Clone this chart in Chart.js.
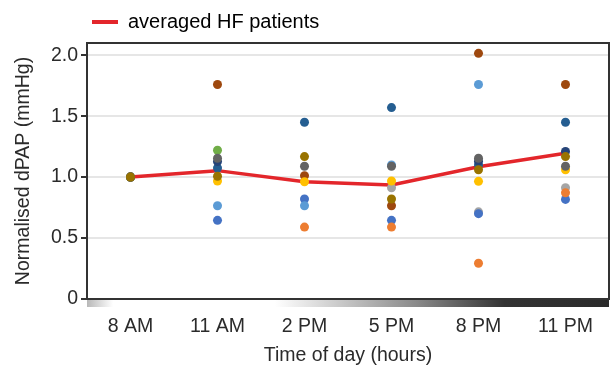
<!DOCTYPE html>
<html>
<head>
<meta charset="utf-8">
<script src="https://cdn.jsdelivr.net/npm/chart.js@4"></script>
<style>
  html, body { margin: 0; padding: 0; background: #fff; }
  #wrap { position: relative; width: 610px; height: 367px; }
</style>
</head>
<body>
<div id="wrap"><canvas id="chart"></canvas></div>
<script>
// time points on the x axis
const timeLabels = ['8 AM', '11 AM', '2 PM', '5 PM', '8 PM', '11 PM'];
const yTicks = [0, 0.5, 1, 1.5, 2];

// averaged curve
const averaged = [1.0, 1.053, 0.962, 0.935, 1.085, 1.196];

// individual patients (null = not visible at that time)
const grey      = [1.0, null,  null,  0.913, 0.715, 0.913];
const blue      = [1.0, 0.645, 0.82,  0.645, 0.70,  0.817];
const orange    = [1.0, null,  0.59,  0.59,  0.293, 0.872];
const brown     = [1.0, 1.76,  1.012, 0.765, 2.015, 1.76];
const lightBlue = [1.0, 0.765, 0.765, 1.10,  1.76,  null];
const green     = [1.0, 1.22,  null,  null,  null,  null];
const darkBlue  = [1.0, 1.075, 1.45,  1.57,  1.10,  1.45];
const yellow    = [1.0, 0.968, 0.962, 0.968, 0.965, 1.06];
const navy      = [1.0, 1.127, null,  null,  1.13,  1.21];
const darkGrey  = [1.0, 1.155, 1.089, 1.089, 1.155, 1.089];
const olive     = [1.0, 1.007, 1.168, 0.82,  1.06,  1.168];

// listed from bottom to top of the drawing stack
const patients = [
  [grey, '#A5A5A5'], [blue, '#4472C4'], [orange, '#ED7D31'], [brown, '#9E480E'],
  [lightBlue, '#5B9BD5'], [green, '#70AD47'], [darkBlue, '#255E91'], [yellow, '#FFC000'],
  [navy, '#264478'], [darkGrey, '#636363'], [olive, '#997300']
];

const FONT = { family: '"Liberation Sans", Arial, sans-serif', size: 19.5 };
const TEXT = '#2b2b2b';
const RED = '#E3262B';

// chart.js paints the first dataset of equal order last, so reverse
const datasets = patients.slice().reverse().map(([vals, color], i) => ({
  label: 'patient ' + (i + 1),
  data: vals,
  showLine: false,
  pointRadius: 4.5,
  pointBorderWidth: 0,
  pointBackgroundColor: color,
  order: 0
}));
datasets.unshift({
  label: 'averaged HF patients',
  data: averaged,
  borderColor: RED,
  backgroundColor: RED,
  borderWidth: 3.5,
  pointRadius: 0,
  tension: 0,
  order: 1
});

// box round the plot and the day/night band under the x axis
const framePlugin = {
  id: 'frame',
  beforeInit(chart) {
    const fit = chart.legend.fit;
    chart.legend.fit = function () {
      fit.bind(chart.legend)();
      this.height += 1;
    };
  },
  afterDraw(chart) {
    const { ctx, chartArea: a } = chart;
    ctx.save();
    const g = ctx.createLinearGradient(a.left, 0, a.right, 0);
    g.addColorStop(0, '#b8b8b8');
    g.addColorStop(0.05, '#ffffff');
    g.addColorStop(0.36, '#ffffff');
    g.addColorStop(0.63, '#8a8a8a');
    g.addColorStop(0.80, '#333333');
    g.addColorStop(1, '#2a2a2a');
    ctx.fillStyle = g;
    ctx.fillRect(a.left, a.bottom + 1, a.right - a.left, 7);
    ctx.strokeStyle = '#333';
    ctx.lineWidth = 2;
    ctx.strokeRect(a.left, a.top, a.right - a.left, a.bottom - a.top);
    ctx.restore();
  }
};

new Chart(document.getElementById('chart'), {
  type: 'line',
  data: { labels: timeLabels, datasets: datasets },
  options: {
    responsive: true,
    maintainAspectRatio: false,
    animation: false,
    layout: { autoPadding: false, padding: { top: 7, right: 1, left: 0, bottom: 0 } },
    plugins: {
      tooltip: { enabled: false },
      legend: {
        display: true,
        position: 'top',
        align: 'start',
        fullSize: false,
        labels: {
          boxWidth: 26,
          boxHeight: 4,
          padding: 5,
          color: TEXT,
          font: { family: FONT.family, size: 20 },
          generateLabels: () => [{
            text: 'averaged HF patients',
            fillStyle: RED,
            strokeStyle: RED,
            lineWidth: 0,
            hidden: false,
            datasetIndex: 0
          }]
        }
      }
    },
    scales: {
      x: {
        offset: true,
        grid: { display: false, drawTicks: true, tickLength: 13, tickColor: 'rgba(0,0,0,0)' },
        border: { display: false },
        ticks: { color: TEXT, font: FONT, padding: 3 },
        title: { display: true, text: 'Time of day (hours)', color: TEXT, font: FONT, padding: { top: 0, bottom: 0 } },
        afterFit(scale) { scale.height = 68; }
      },
      y: {
        min: 0,
        max: 2.1,
        grid: { color: '#e6e6e6', lineWidth: 2, tickColor: '#333', tickLength: 6, tickWidth: 2 },
        border: { display: false },
        afterBuildTicks(scale) { scale.ticks = yTicks.map(v => ({ value: v })); },
        ticks: {
          color: TEXT,
          font: FONT,
          padding: 3,
          callback: v => (v === 0 ? '0' : v.toFixed(1))
        },
        title: { display: true, text: 'Normalised dPAP (mmHg)', color: TEXT, font: FONT, padding: { top: 12, bottom: 0 } },
        afterFit(scale) { scale.width = 87; }
      }
    }
  },
  plugins: [framePlugin]
});
</script>
</body>
</html>
